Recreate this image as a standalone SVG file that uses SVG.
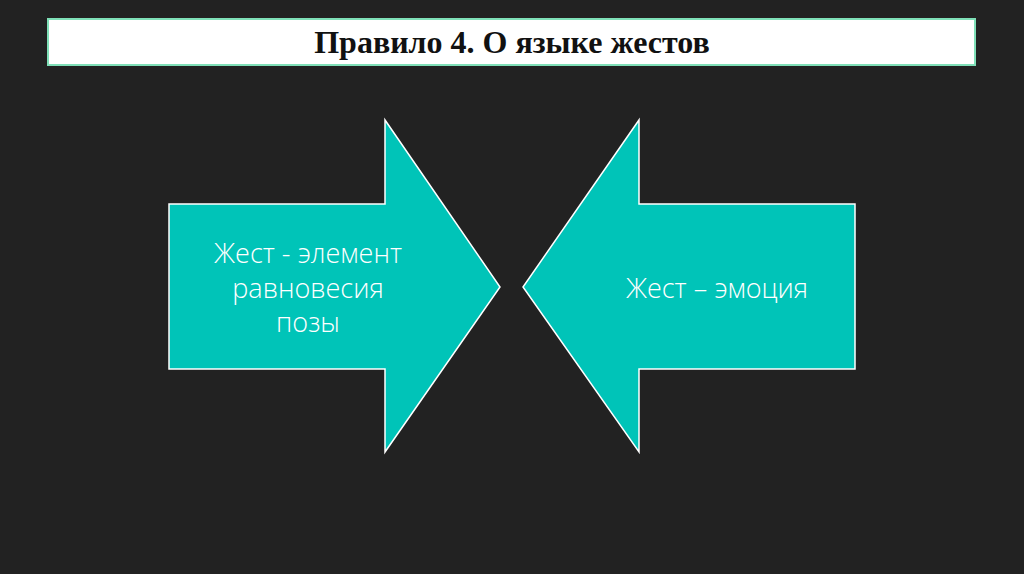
<svg xmlns="http://www.w3.org/2000/svg" width="1024" height="574" viewBox="0 0 1024 574">
<style>
.arrow{fill:#00c4b8;stroke:#ffffff;stroke-width:1.5}
.t{font-family:"Open Sans","DejaVu Sans",sans-serif;font-weight:300;font-size:27px;fill:#ffffff;text-anchor:middle}
</style>
<rect width="1024" height="574" fill="#222222"/>
<g id="title">
<rect x="48" y="19" width="927" height="46" fill="#ffffff" stroke="#7fe0b8" stroke-width="2"/>
<text x="512" y="53" font-family="Liberation Serif,serif" font-weight="bold" font-size="32" text-anchor="middle" fill="#111">Правило 4. О языке жестов</text>
</g>
<g id="left">
<polygon class="arrow" points="169,204 385,204 385,120 500,287 385,452 385,369 169,369"/>
<text class="t" x="308" y="263">Жест - элемент</text>
<text class="t" x="308" y="298">равновесия</text>
<text class="t" x="308" y="332">позы</text>
</g>
<g id="right">
<polygon class="arrow" points="855,204 639,204 639,120 523,287 639,452 639,369 855,369"/>
<text class="t" x="717" y="298">Жест – эмоция</text>
</g>
<g id="connectors"/>
</svg>
